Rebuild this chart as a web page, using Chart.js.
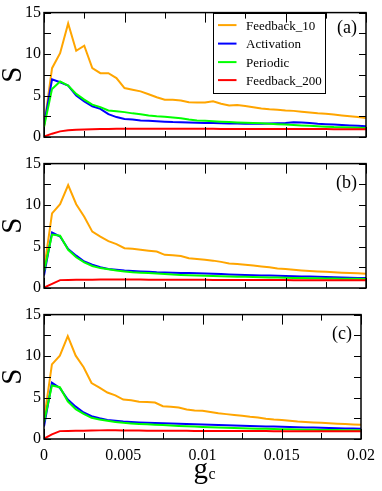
<!DOCTYPE html>
<html>
<head>
<meta charset="utf-8">
<script src="https://cdn.jsdelivr.net/npm/chart.js@4.4.0/dist/chart.umd.min.js"></script>
<style>
  html, body { margin: 0; padding: 0; background: #fff; }
  #wrap { position: relative; width: 382px; height: 491px; }
  #wrap canvas { position: absolute; left: 0; }
</style>
</head>
<body>
<div id="wrap">
  <canvas id="panelA" width="382" height="150" style="top:0px"></canvas>
  <canvas id="panelB" width="382" height="150" style="top:151px"></canvas>
  <canvas id="panelC" width="382" height="189" style="top:302px"></canvas>
</div>
<script>
// g_c values (x axis)
const gcValues = [0, 0.0005, 0.001, 0.0015, 0.002, 0.0025, 0.003, 0.0035, 0.004, 0.0045,
  0.005, 0.0055, 0.006, 0.0065, 0.007, 0.0075, 0.008, 0.0085, 0.009, 0.0095,
  0.01, 0.0105, 0.011, 0.0115, 0.012, 0.0125, 0.013, 0.0135, 0.014, 0.0145,
  0.015, 0.0155, 0.016, 0.0165, 0.017, 0.0175, 0.018, 0.0185, 0.019, 0.0195, 0.02];

const seriesNames = ["Feedback_10", "Activation", "Periodic", "Feedback_200"];
const seriesColors = ["#FFA500", "#0000FF", "#00FF00", "#FF0000"];

// panel (a)
const aFeedback10 = [1.2, 8.3, 10.1, 13.7, 10.4, 11.0, 8.3, 7.7, 7.7, 7.1, 5.9, 5.7, 5.5, 5.15, 4.8, 4.5, 4.5, 4.4, 4.2, 4.15,
  4.15, 4.3, 4.0, 3.8, 3.85, 3.75, 3.6, 3.45, 3.35, 3.3, 3.2, 3.15, 3.05, 2.95, 2.85, 2.8, 2.7, 2.6, 2.5, 2.4, 2.3];
const aActivation = [1.4, 6.95, 6.6, 6.2, 5.0, 4.3, 3.7, 3.4, 2.75, 2.4, 2.17, 2.1, 2.0, 1.97, 1.9, 1.85, 1.8, 1.78, 1.75, 1.72,
  1.7, 1.68, 1.65, 1.63, 1.62, 1.6, 1.6, 1.6, 1.62, 1.65, 1.7, 1.78, 1.75, 1.7, 1.6, 1.55, 1.5, 1.45, 1.4, 1.35, 1.3];
const aPeriodic = [1.2, 5.8, 6.7, 6.2, 5.2, 4.5, 3.9, 3.6, 3.2, 3.1, 3.0, 2.85, 2.73, 2.6, 2.5, 2.45, 2.35, 2.25, 2.1, 2.0,
  1.95, 1.9, 1.85, 1.8, 1.75, 1.72, 1.68, 1.65, 1.6, 1.55, 1.5, 1.45, 1.4, 1.35, 1.3, 1.25, 1.2, 1.18, 1.15, 1.12, 1.1];
const aFeedback200 = [0.05, 0.4, 0.68, 0.8, 0.87, 0.9, 0.93, 0.95, 0.97, 0.98, 0.99, 1.0, 1.0, 1.0, 1.0, 1.0, 0.99, 0.99, 0.99, 0.98,
  0.98, 0.98, 0.97, 0.97, 0.97, 0.97, 0.96, 0.96, 0.96, 0.96, 0.95, 0.95, 0.95, 0.95, 0.95, 0.95, 0.94, 0.94, 0.94, 0.94, 0.94];

// panel (b)
const bFeedback10 = [2.2, 9.0, 10.1, 12.4, 10.1, 8.6, 6.8, 6.2, 5.65, 5.3, 4.8, 4.72, 4.6, 4.5, 4.4, 4.0, 3.95, 3.85, 3.6, 3.5,
  3.4, 3.3, 3.15, 2.95, 2.9, 2.8, 2.7, 2.6, 2.5, 2.35, 2.3, 2.2, 2.12, 2.05, 2.0, 1.95, 1.9, 1.85, 1.8, 1.77, 1.73];
const bActivation = [1.5, 6.7, 6.2, 4.7, 3.9, 3.2, 2.8, 2.5, 2.3, 2.2, 2.1, 2.05, 2.0, 1.95, 1.9, 1.88, 1.85, 1.82, 1.8, 1.77,
  1.75, 1.72, 1.68, 1.64, 1.6, 1.58, 1.55, 1.52, 1.5, 1.48, 1.45, 1.42, 1.4, 1.38, 1.35, 1.32, 1.3, 1.28, 1.25, 1.22, 1.2];
const bPeriodic = [2.0, 6.45, 6.3, 4.6, 3.7, 3.1, 2.65, 2.4, 2.25, 2.1, 2.0, 1.9, 1.85, 1.8, 1.75, 1.7, 1.62, 1.58, 1.55, 1.52,
  1.48, 1.45, 1.42, 1.4, 1.37, 1.35, 1.32, 1.3, 1.28, 1.27, 1.25, 1.22, 1.2, 1.18, 1.17, 1.16, 1.15, 1.13, 1.12, 1.11, 1.1];
const bFeedback200 = [0.05, 0.5, 0.95, 0.97, 0.98, 0.99, 1.0, 1.02, 1.03, 1.03, 1.02, 1.02, 1.01, 1.0, 1.0, 1.0, 0.99, 0.99, 0.98, 0.98,
  0.98, 0.97, 0.97, 0.97, 0.96, 0.96, 0.96, 0.95, 0.95, 0.95, 0.95, 0.94, 0.94, 0.94, 0.94, 0.93, 0.93, 0.93, 0.93, 0.92, 0.92];

// panel (c)
const cFeedback10 = [2.3, 9.0, 10.05, 12.4, 10.05, 8.65, 6.75, 6.2, 5.6, 5.27, 4.75, 4.67, 4.5, 4.47, 4.4, 3.95, 3.9, 3.8, 3.55, 3.45,
  3.4, 3.25, 3.1, 3.0, 2.9, 2.8, 2.68, 2.6, 2.45, 2.35, 2.3, 2.2, 2.1, 2.05, 2.0, 1.95, 1.9, 1.85, 1.8, 1.76, 1.72];
const cActivation = [1.5, 6.8, 6.15, 4.75, 3.9, 3.2, 2.75, 2.5, 2.3, 2.2, 2.1, 2.05, 2.0, 1.95, 1.92, 1.9, 1.87, 1.84, 1.8, 1.78,
  1.75, 1.72, 1.68, 1.65, 1.62, 1.6, 1.57, 1.54, 1.52, 1.5, 1.47, 1.45, 1.42, 1.4, 1.38, 1.35, 1.33, 1.3, 1.28, 1.26, 1.25];
const cPeriodic = [2.0, 6.45, 6.25, 4.55, 3.6, 3.03, 2.55, 2.35, 2.2, 2.05, 1.95, 1.88, 1.82, 1.77, 1.72, 1.68, 1.62, 1.58, 1.54, 1.5,
  1.46, 1.42, 1.39, 1.36, 1.33, 1.3, 1.28, 1.25, 1.23, 1.21, 1.19, 1.17, 1.15, 1.13, 1.12, 1.1, 1.09, 1.08, 1.07, 1.06, 1.05];
const cFeedback200 = [0.05, 0.55, 0.95, 0.97, 0.98, 1.0, 1.02, 1.04, 1.05, 1.04, 1.03, 1.02, 1.01, 1.0, 1.0, 0.99, 0.99, 0.98, 0.98, 0.97,
  0.97, 0.97, 0.96, 0.96, 0.96, 0.95, 0.95, 0.95, 0.95, 0.94, 0.94, 0.94, 0.94, 0.93, 0.93, 0.93, 0.93, 0.93, 0.92, 0.92, 0.92];

// ticks
const xMajor = [0, 0.005, 0.01, 0.015, 0.02];
const xMinor = [0.0025, 0.0075, 0.0125, 0.0175];
const xTickLabels = ["0", "0.005", "0.01", "0.015", "0.02"];
const yMajor = [0, 5, 10, 15];
const yMinor = [2.5, 7.5, 12.5];
const yTickLabels = ["0", "5", "10", "15"];

const SERIF = "'Liberation Serif', 'DejaVu Serif', serif";
// draw order: green over blue, red on top
const drawOrder = [3, 2, 1, 0];

// inward tick marks on all four sides + frame
const frameTicks = {
  id: "frameTicks",
  afterDatasetsDraw(chart) {
    const { ctx, chartArea: a, scales } = chart;
    const sx = scales.x, sy = scales.y;
    ctx.save();
    ctx.strokeStyle = "#000";
    ctx.lineWidth = 1;
    ctx.beginPath();
    const xt = (v, len) => {
      const px = Math.round(sx.getPixelForValue(v)) + 0.5;
      ctx.moveTo(px, a.bottom); ctx.lineTo(px, a.bottom - len);
      ctx.moveTo(px, a.top); ctx.lineTo(px, a.top + len);
    };
    const yt = (v, len) => {
      const py = Math.round(sy.getPixelForValue(v)) + 0.5;
      ctx.moveTo(a.left, py); ctx.lineTo(a.left + len, py);
      ctx.moveTo(a.right, py); ctx.lineTo(a.right - len, py);
    };
    xMajor.forEach(v => xt(v, 10));
    xMinor.forEach(v => xt(v, 6));
    yMajor.forEach(v => yt(v, 7));
    yMinor.forEach(v => yt(v, 7));
    ctx.stroke();
    ctx.lineWidth = 1.5;
    ctx.strokeRect(a.left, a.top, a.right - a.left, a.bottom - a.top);
    ctx.restore();
  }
};

// panel tag, legend box and x-axis title
const extras = {
  id: "extras",
  afterDraw(chart, args, opts) {
    const { ctx, chartArea: a } = chart;
    ctx.save();
    ctx.fillStyle = "#000";
    ctx.font = "18px " + SERIF;
    ctx.textAlign = "right";
    ctx.textBaseline = "middle";
    ctx.fillText(opts.tag, a.right - 9, a.top + opts.tagDy);

    if (opts.legend) {
      const bl = a.left + 168.5, bt = a.top, bw = 112, bh = 80;
      ctx.lineWidth = 1;
      ctx.strokeStyle = "#000";
      ctx.strokeRect(Math.round(bl) + 0.5, Math.round(bt) + 0.5, bw, bh);
      ctx.font = "13px " + SERIF;
      ctx.textAlign = "left";
      const rows = [12.5, 31, 49.5, 67.5];
      chart.data.datasets.forEach((ds, i) => {
        const yy = bt + rows[i];
        ctx.strokeStyle = ds.borderColor;
        ctx.lineWidth = 2;
        ctx.beginPath();
        ctx.moveTo(bl + 5.5, yy);
        ctx.lineTo(bl + 24, yy);
        ctx.stroke();
        ctx.fillText(ds.label, bl + 33.5, yy + 1);
      });
    }

    if (opts.xTitle) {
      const cx = (a.left + a.right) / 2;
      ctx.textAlign = "left";
      ctx.textBaseline = "alphabetic";
      ctx.font = "29px " + SERIF;
      const gw = ctx.measureText("g").width;
      ctx.fillText("g", cx - 9, a.bottom + 39);
      ctx.font = "16px " + SERIF;
      ctx.fillText("c", cx - 9 + gw + 0.5, a.bottom + 40);
    }
    ctx.restore();
  }
};

function makePanel(id, series, tag, tagDy, withLegend, withX) {
  const canvas = document.getElementById(id);
  const datasets = series.map((vals, i) => ({
    label: seriesNames[i],
    data: gcValues.map((g, k) => ({ x: g, y: vals[k] })),
    borderColor: seriesColors[i],
    backgroundColor: seriesColors[i],
    borderWidth: 2,
    pointRadius: 0,
    tension: 0,
    fill: false,
    order: drawOrder[i]
  }));
  const xAxisH = canvas.height - 137;
  return new Chart(canvas.getContext("2d"), {
    type: "line",
    data: { datasets },
    plugins: [frameTicks, extras],
    options: {
      responsive: false,
      animation: false,
      events: [],
      layout: { padding: { top: 12, right: 16, left: 0, bottom: 0 } },
      plugins: {
        legend: { display: false },
        tooltip: { enabled: false },
        extras: { tag: tag, tagDy: tagDy, legend: withLegend, xTitle: withX }
      },
      scales: {
        x: {
          type: "linear",
          min: 0,
          max: 0.02,
          grid: { display: false, drawTicks: false },
          border: { display: false },
          afterBuildTicks(s) { s.ticks = xMajor.map(v => ({ value: v })); },
          afterFit(s) { s.height = xAxisH; },
          ticks: {
            display: withX,
            padding: 7,
            maxRotation: 0,
            autoSkip: false,
            color: "#000",
            font: { family: SERIF, size: 16 },
            callback: (v, i) => xTickLabels[i]
          }
        },
        y: {
          min: 0,
          max: 15,
          grid: { display: false, drawTicks: false },
          border: { display: false },
          afterBuildTicks(s) { s.ticks = yMajor.map(v => ({ value: v })); },
          afterFit(s) { s.width = 44; },
          ticks: {
            padding: 3,
            color: "#000",
            font: { family: SERIF, size: 16 },
            callback: (v, i) => yTickLabels[i]
          },
          title: {
            display: true,
            text: "S",
            color: "#000",
            padding: 0,
            font: { family: SERIF, size: 29, lineHeight: 0.9 }
          }
        }
      }
    }
  });
}

makePanel("panelA", [aFeedback10, aActivation, aPeriodic, aFeedback200], "(a)", 16, true, false);
makePanel("panelB", [bFeedback10, bActivation, bPeriodic, bFeedback200], "(b)", 20, false, false);
makePanel("panelC", [cFeedback10, cActivation, cPeriodic, cFeedback200], "(c)", 20, false, true);
</script>
</body>
</html>
